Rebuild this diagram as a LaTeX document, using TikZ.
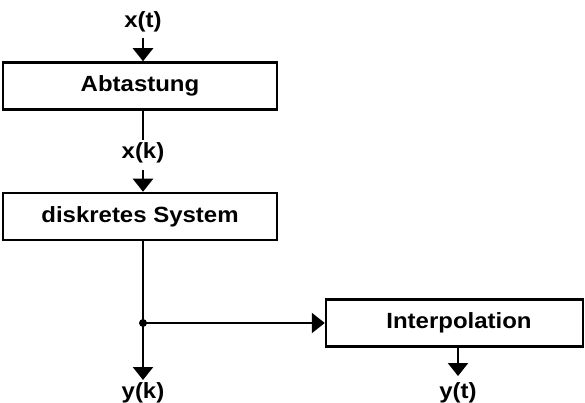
\documentclass[tikz,border=0pt]{standalone}
\usepackage{fontspec}
\setmainfont{Liberation Sans}[FakeStretch=1.09]
\usetikzlibrary{arrows.meta}
\tikzset{
  blk/.style={draw, line width=2.5pt, minimum height=47pt, inner sep=0pt},
  sig/.style={inner sep=0pt},
  wire/.style={line width=2.5pt},
  arr/.style={line width=2.5pt, -{Triangle[width=20pt,length=13pt]}},
}
\begin{document}
\begin{tikzpicture}[x=1pt, y=-1pt, font=\fontsize{22}{26}\selectfont\bfseries]
\useasboundingbox (0,0) rectangle (585,403);
% blocks
\node[blk, minimum width=274pt] (abt) at (140,86) {Abtastung};
\node[blk, minimum width=274pt] (dis) at (140,216.5) {diskretes System};
\node[blk, minimum width=257pt] (ipo) at (454.5,323) {\hspace*{9pt}Interpolation};
% signal labels
\node[sig] (xt) at (143,22) {x(t)};
\node[sig] (xk) at (143,153) {x(k)};
\node[sig] (yk) at (143,393) {y(k)};
\node[sig] (yt) at (458,393) {y(t)};
% connector end points
\coordinate (xtin) at (143,38);
\coordinate (xka) at (143,140);
\coordinate (xkb) at (143,170);
\coordinate (split) at (143,323);
\coordinate (ykout) at (143,380);
\coordinate (ytout) at (458,376);
% connectors
\draw[arr] (xtin) -- (xtin |- abt.north);
\draw[wire] (xka |- abt.south) -- (xka);
\draw[arr] (xkb) -- (xkb |- dis.north);
\draw[wire] (split |- dis.south) -- (split);
\draw[arr] (split) -- (ykout);
\draw[arr] (split) -- (ipo.west);
\draw[arr] (ytout |- ipo.south) -- (ytout);
\fill (split) circle (4pt);
\end{tikzpicture}
\end{document}
